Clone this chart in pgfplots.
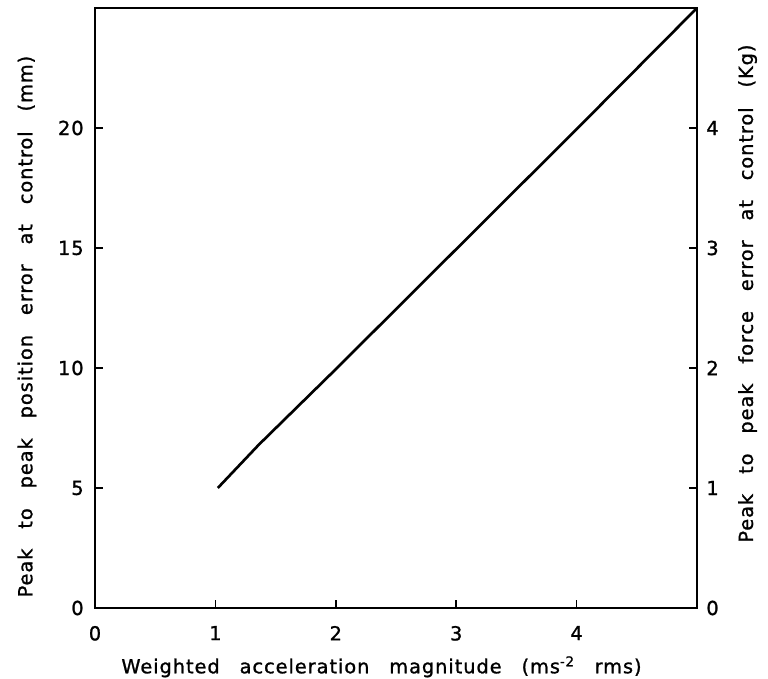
\documentclass[border=0pt]{standalone}
\usepackage{fontspec}
\setmainfont{DejaVu Sans}[WordSpace=2.8, LetterSpace=5, FakeBold=1.2]
\usepackage{pgfplots}
\pgfplotsset{compat=1.18}

\begin{document}
\begin{tikzpicture}
\pgfplotsset{
  every axis/.append style={
    font=\fontsize{14.5}{17}\selectfont,
    /pgf/number format/assume math mode=true,
    width=451.5pt, height=450pt, scale only axis,
    xmin=0, xmax=5,
    tick align=inside,
    major tick length=6pt,
    tick style={black, line width=1.3pt},
    axis line style={line width=1.5pt},
  },
}
\begin{axis}[
  name=a,
  ymin=0, ymax=25,
  xtick={0,1,2,3,4},
  ytick={0,5,10,15,20},
  xtick pos=bottom,
  ytick pos=left,
  xlabel={Weighted acceleration magnitude (ms\textsuperscript{-2} rms)},
  ylabel={Peak to peak position error at control (mm)},
  xticklabel style={yshift=-10pt},
  yticklabel style={xshift=-5pt},
  xlabel style={at={(axis description cs:0.476,-0.098)}, anchor=center},
  ylabel style={at={(axis description cs:-0.113,0.469)}, anchor=center},
]
\addplot[black, line width=2pt] coordinates {
  (1.02,5.0) (1.36,6.8) (2.00,9.95) (3.00,14.95) (4.00,19.95) (5.00,25.0)
};
\end{axis}
\begin{axis}[
  ymin=0, ymax=5,
  axis x line=none,
  axis y line*=right,
  ytick={0,1,2,3,4},
  ylabel={Peak to peak force error at control (Kg)},
  yticklabel style={xshift=3.5pt},
  ylabel style={at={(axis description cs:1.084,0.524)}, anchor=center},
]
\end{axis}
\pgfresetboundingbox
\path[use as bounding box] ([shift={(-71.25pt,-53.25pt)}]a.south west)
  rectangle ([shift={(53.25pt,6pt)}]a.north east);
\end{tikzpicture}
\end{document}
